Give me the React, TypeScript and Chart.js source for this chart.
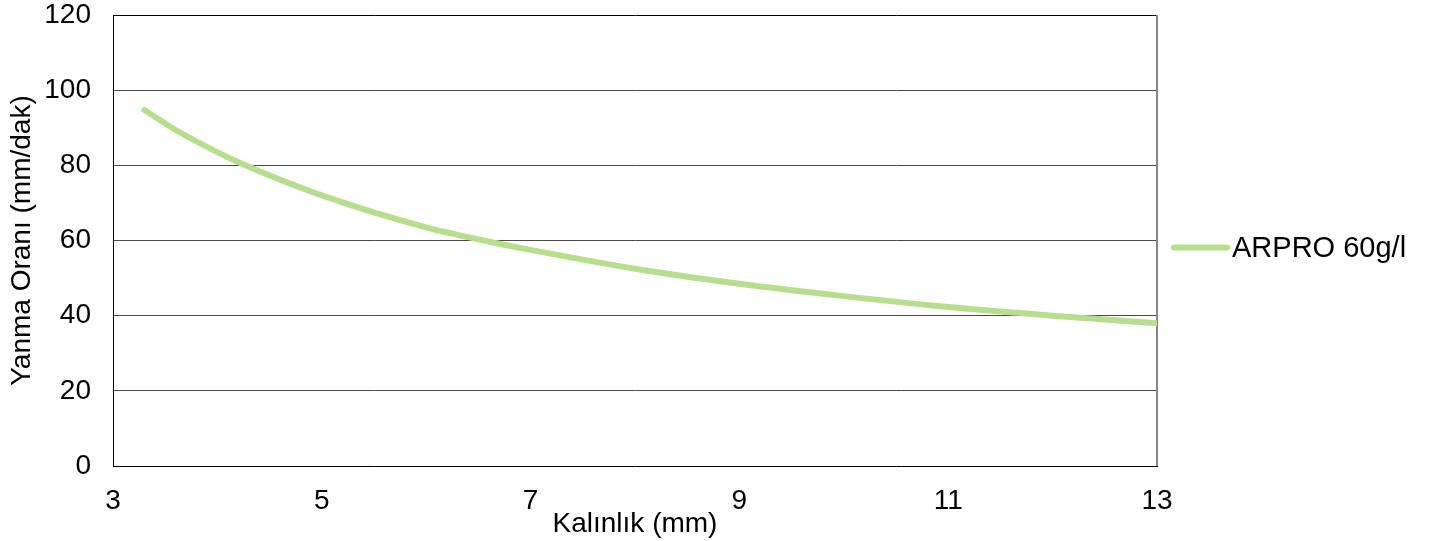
import { useEffect, useRef } from 'react'
import { Chart, registerables, Plugin } from 'chart.js'

Chart.register(...registerables)

// values
const thicknessMm = [3.3, 3.6, 4, 4.25, 5, 6, 6.55, 7, 8, 9, 10, 11, 12, 13]
const burnRate = [94.7, 89.4, 83.5, 80.2, 72, 63.5, 60, 57.5, 52.5, 48.5, 45.2, 42.3, 40, 38]
const xTickValues = [3, 5, 7, 9, 11, 13]
const yTickValues = [0, 20, 40, 60, 80, 100, 120]
const seriesLabel = 'ARPRO 60g/l'
const xTitle = 'Kalınlık (mm)'
const yTitle = 'Yanma Oranı (mm/dak)'

const lineColor = 'rgb(182, 222, 140)'
const fontFamily = '"Liberation Sans", Arial, sans-serif'

// right border of the plot area plus a hand-drawn legend
const framePlugin: Plugin = {
  id: 'frameAndLegend',
  beforeDatasetsDraw(chart) {
    const { ctx, chartArea } = chart
    ctx.save()
    ctx.strokeStyle = '#858585'
    ctx.lineWidth = 2
    ctx.beginPath()
    ctx.moveTo(chartArea.right, chartArea.top)
    ctx.lineTo(chartArea.right, chartArea.bottom)
    ctx.stroke()
    ctx.restore()
  },
  afterDraw(chart) {
    const { ctx, chartArea } = chart
    const y = (chartArea.top + chartArea.bottom) / 2 + 7
    const x0 = chartArea.right + 17
    ctx.save()
    ctx.strokeStyle = lineColor
    ctx.lineWidth = 6
    ctx.lineCap = 'round'
    ctx.beginPath()
    ctx.moveTo(x0, y)
    ctx.lineTo(x0 + 53, y)
    ctx.stroke()
    ctx.fillStyle = '#000'
    ctx.font = `29px ${fontFamily}`
    ctx.textBaseline = 'middle'
    ctx.textAlign = 'left'
    ctx.fillText(seriesLabel, x0 + 58, y + 1)
    ctx.restore()
  }
}

export default function App() {
  const chartRef = useRef<HTMLCanvasElement | null>(null)
  const chartInstance = useRef<Chart | null>(null)

  useEffect(() => {
    document.body.style.margin = '0'
    if (!chartRef.current) return
    const ctx = chartRef.current.getContext('2d')
    if (!ctx) return

    if (chartInstance.current) {
      chartInstance.current.destroy()
    }

    Chart.defaults.font.family = fontFamily
    Chart.defaults.color = '#000'

    chartInstance.current = new Chart(ctx, {
      type: 'scatter',
      data: {
        datasets: [
          {
            label: seriesLabel,
            data: thicknessMm.map((x, i) => ({ x, y: burnRate[i] })),
            showLine: true,
            borderColor: lineColor,
            backgroundColor: lineColor,
            borderWidth: 6,
            borderCapStyle: 'round',
            pointRadius: 0,
            cubicInterpolationMode: 'monotone'
          }
        ]
      },
      options: {
        animation: false,
        responsive: true,
        maintainAspectRatio: false,
        layout: { padding: { top: 15, right: 281, left: 0, bottom: 0 } },
        plugins: {
          legend: { display: false },
          tooltip: { enabled: false }
        },
        scales: {
          x: {
            type: 'linear',
            min: 3,
            max: 13,
            afterBuildTicks: scale => {
              scale.ticks = xTickValues.map(value => ({ value }))
            },
            afterFit: scale => {
              scale.height = 75
              scale.paddingLeft = 0
              scale.paddingRight = 0
            },
            grid: { display: false, drawTicks: false },
            border: { display: true, color: '#000', width: 1 },
            ticks: { padding: 18, font: { size: 28 }, color: '#000' },
            title: {
              display: true,
              text: xTitle,
              font: { size: 28 },
              color: '#000',
              padding: { top: 0, bottom: 0 }
            }
          },
          y: {
            type: 'linear',
            min: 0,
            max: 120,
            afterBuildTicks: scale => {
              scale.ticks = yTickValues.map(value => ({ value }))
            },
            afterFit: scale => {
              scale.width = 113
              scale.paddingTop = 0
              scale.paddingBottom = 0
            },
            grid: {
              drawTicks: false,
              color: c => (c.tick.value === 120 ? '#000' : c.tick.value === 0 ? 'rgba(0,0,0,0)' : '#4a4a4a'),
              lineWidth: 1
            },
            border: { display: true, color: '#000', width: 1 },
            ticks: { padding: 22, font: { size: 28 }, color: '#000' },
            title: {
              display: true,
              text: yTitle,
              font: { size: 28 },
              color: '#000',
              padding: { top: 5, bottom: 0 }
            }
          }
        }
      },
      plugins: [framePlugin]
    })

    return () => {
      if (chartInstance.current) {
        chartInstance.current.destroy()
        chartInstance.current = null
      }
    }
  }, [])

  return (
    <div style={{ position: 'relative', width: 1438, height: 541 }}>
      <canvas ref={chartRef} />
    </div>
  )
}
